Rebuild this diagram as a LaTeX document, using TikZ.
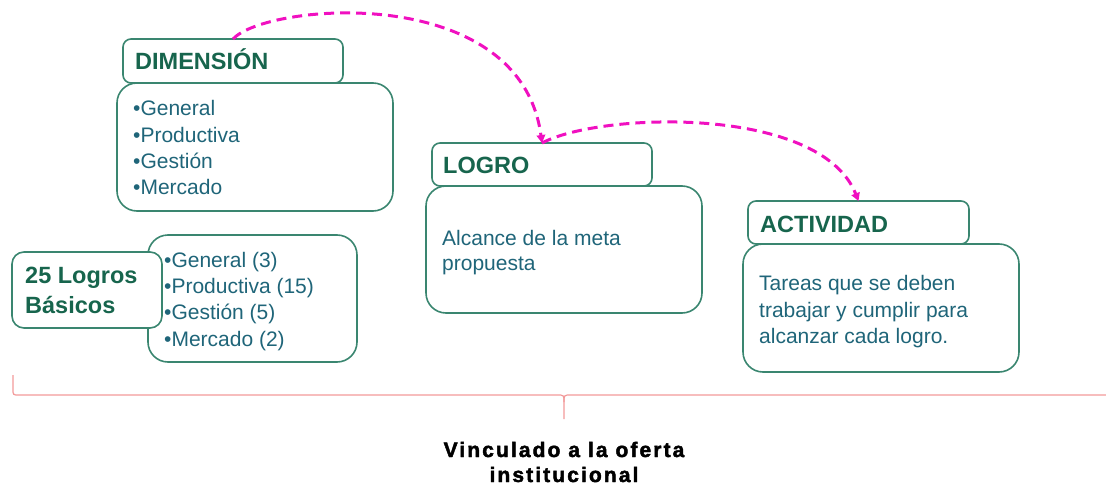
\documentclass[tikz,border=0pt]{standalone}
\usepackage{fontspec}
\setmainfont{Liberation Sans}
\newfontfamily\spacedfont[LetterSpace=10,FakeBold=2.2]{Liberation Sans}
\usetikzlibrary{arrows.meta}
\definecolor{bordc}{HTML}{3A8670}
\definecolor{hdrc}{HTML}{17654D}
\definecolor{txtc}{HTML}{1F6579}
\definecolor{magc}{HTML}{F010C0}
\definecolor{bracec}{HTML}{F29A9A}
\tikzset{
  hbox/.style={draw=bordc, line width=1.6pt, fill=white, rounded corners=8pt, inner sep=0pt, outer sep=0pt},
  bbox/.style={draw=bordc, line width=1.6pt, fill=white, rounded corners=20pt, inner sep=0pt, outer sep=0pt},
  htext/.style={anchor=base west, inner sep=0pt, text=hdrc, font=\fontsize{23.5}{28}\selectfont\bfseries},
  btext/.style={anchor=base west, inner sep=0pt, text=txtc, font=\fontsize{21}{25}\selectfont},
  ftext/.style={anchor=base, inner sep=0pt, text=black, font=\spacedfont\fontsize{21}{25}\selectfont\bfseries},
  link/.style={draw=magc, line width=3pt, dash pattern=on 10pt off 6pt, -{Triangle[length=8pt,width=8.5pt]}},
  bracel/.style={draw=bracec, line width=1.2pt},
}
\begin{document}
\begin{tikzpicture}[x=1pt,y=-1pt]
\useasboundingbox (0,0) rectangle (1106,487);
% DIMENSION
\node[bbox, minimum width=276pt, minimum height=128pt] (dimbody) at (255,147) {};
\node[hbox, minimum width=220pt, minimum height=44pt] (dimhead) at (233,61) {};
\node[htext] (dimt) at (135,70) {DIMENSIÓN};
\node[btext] (dim1) at (133,115) {•General};
\node[btext] (dim2) at (133,142) {•Productiva};
\node[btext] (dim3) at (133,168) {•Gestión};
\node[btext] (dim4) at (133,194) {•Mercado};
% 25 Logros
\node[bbox, minimum width=209pt, minimum height=127pt] (lbbody) at (252.5,298.5) {};
\node[hbox, rounded corners=12pt, minimum width=150pt, minimum height=76pt] (lbhead) at (87,290) {};
\node[htext] (lbt1) at (25,283) {25 Logros};
\node[htext] (lbt2) at (25,313) {Básicos};
\node[btext] (lb1) at (164,267) {•General (3)};
\node[btext] (lb2) at (164,293) {•Productiva (15)};
\node[btext] (lb3) at (164,319) {•Gestión (5)};
\node[btext] (lb4) at (164,346) {•Mercado (2)};
% LOGRO
\node[bbox, minimum width=276pt, minimum height=127pt] (logbody) at (564,249.5) {};
\node[hbox, minimum width=220pt, minimum height=43pt] (loghead) at (542,164.5) {};
\node[htext] (logt) at (443,173) {LOGRO};
\node[btext] (log1) at (442,245) {Alcance de la meta};
\node[btext] (log2) at (442,270) {propuesta};
% ACTIVIDAD
\node[bbox, minimum width=276pt, minimum height=128pt] (actbody) at (881,308) {};
\node[hbox, minimum width=221pt, minimum height=43pt] (acthead) at (858.5,222.5) {};
\node[htext] (actt) at (760,232) {ACTIVIDAD};
\node[btext] (act1) at (759,290) {Tareas que se deben};
\node[btext] (act2) at (759,317) {trabajar y cumplir para};
\node[btext] (act3) at (759,343) {alcanzar cada logro.};
% arrows
\draw[link] (dimhead.north) .. controls +(33,-36) and +(-22,-162) .. (loghead.north);
\draw[link] (loghead.north) .. controls +(58,-31) and +(-38,-96) .. (acthead.north);
% brace
\draw[bracel] (13,375) -- (13,389) .. controls (13,395) .. (19,395) -- (557,395) .. controls (564,395) .. (564,402) -- (564,419);
\draw[bracel] (564,402) .. controls (564,395) .. (571,395) -- (1106,395);
% bottom text
\node[ftext] (f1) at (564,457) {Vinculado a la oferta};
\node[ftext] (f2) at (564,482) {institucional};
\end{tikzpicture}
\end{document}
